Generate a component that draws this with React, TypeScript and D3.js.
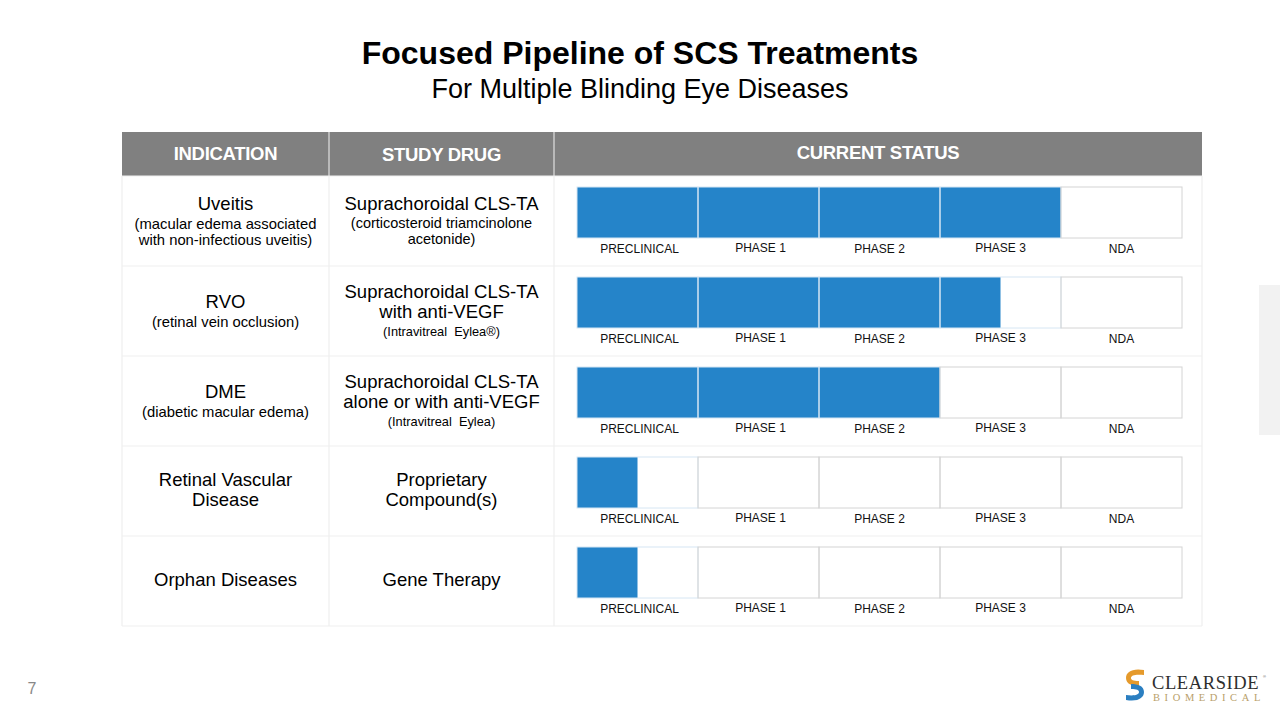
import React from "react";
import * as d3 from "d3";

const stages = ["PRECLINICAL", "PHASE 1", "PHASE 2", "PHASE 3", "NDA"];
const headers = ["INDICATION", "STUDY DRUG", "CURRENT STATUS"];
const indications = ["Uveitis", "RVO", "DME", "Retinal Vascular\nDisease", "Orphan Diseases"];
const indicationNotes = [
  "(macular edema associated\nwith non-infectious uveitis)",
  "(retinal vein occlusion)",
  "(diabetic macular edema)",
  "",
  "",
];
const drugs = [
  "Suprachoroidal CLS-TA",
  "Suprachoroidal CLS-TA\nwith anti-VEGF",
  "Suprachoroidal CLS-TA\nalone or with anti-VEGF",
  "Proprietary\nCompound(s)",
  "Gene Therapy",
];
const drugNotes = [
  "(corticosteroid triamcinolone\nacetonide)",
  "(Intravitreal  Eylea®)",
  "(Intravitreal  Eylea)",
  "",
  "",
];
// progress measured in number of completed stages
const progress = [4, 3.5, 3, 0.5, 0.5];

const W = 1280;
const H = 720;
const FONT = "'Liberation Sans', Arial, Helvetica, sans-serif";
const SERIF = "'Liberation Serif', 'DejaVu Serif', serif";

const tableLeft = 122;
const tableRight = 1202;
const colX = [122, 329, 554, 1202];
const headerTop = 132;
const headerBottom = 176;
const rowH = 90;

const x = d3.scaleLinear().domain([0, stages.length]).range([577, 1182]);
const rowY = d3
  .scaleLinear()
  .domain([0, indications.length])
  .range([headerBottom, headerBottom + rowH * indications.length]);

const BLUE = "#2584c9";

function Lines({ lines, cx, y0, dy, size, fill = "#000" }: any) {
  return (
    <>
      {lines.map((l: string, i: number) => (
        <text
          key={i}
          x={cx}
          y={y0 + i * dy}
          textAnchor="middle"
          fontSize={size}
          fill={fill}
          fontFamily={FONT}
          style={{ whiteSpace: "pre" }}
        >
          {l}
        </text>
      ))}
    </>
  );
}

export default function App() {
  const c1 = (colX[0] + colX[1]) / 2;
  const c2 = (colX[1] + colX[2]) / 2;
  const segW = x(1) - x(0);
  return (
    <svg
      width={W}
      height={H}
      style={{ position: "absolute", left: 0, top: 0, background: "#fff" }}
    >
      <rect width={W} height={H} fill="#fff" />
      {/* title */}
      <text x={640} y={64} textAnchor="middle" fontFamily={FONT} fontWeight="bold" fontSize={32} fill="#000">
        Focused Pipeline of SCS Treatments
      </text>
      <text x={640} y={98} textAnchor="middle" fontFamily={FONT} fontSize={27} fill="#000">
        For Multiple Blinding Eye Diseases
      </text>

      {/* header */}
      <rect x={tableLeft} y={headerTop} width={tableRight - tableLeft} height={headerBottom - headerTop} fill="#808080" />
      {[colX[1], colX[2]].map((cx) => (
        <line key={cx} x1={cx} x2={cx} y1={headerTop} y2={headerBottom} stroke="#f2f2f2" strokeWidth={1} />
      ))}
      <text x={c1} y={160} textAnchor="middle" fontFamily={FONT} fontWeight="bold" fontSize={18.5} letterSpacing={-0.3} fill="#fff">{headers[0]}</text>
      <text x={c2} y={161} textAnchor="middle" fontFamily={FONT} fontWeight="bold" fontSize={18.5} letterSpacing={-0.3} fill="#fff">{headers[1]}</text>
      <text x={878} y={159} textAnchor="middle" fontFamily={FONT} fontWeight="bold" fontSize={18.5} letterSpacing={-0.3} fill="#fff">{headers[2]}</text>

      {/* grid lines */}
      {d3.range(indications.length + 1).map((i) => (
        <line key={"h" + i} x1={tableLeft} x2={tableRight} y1={rowY(i)} y2={rowY(i)} stroke="#efefef" strokeWidth={1.2} />
      ))}
      {colX.map((cx) => (
        <line key={"v" + cx} x1={cx} x2={cx} y1={headerBottom} y2={rowY(indications.length)} stroke="#efefef" strokeWidth={1.2} />
      ))}

      {indications.map((ind, r) => {
        const top = rowY(r);
        const indLines = ind.split("\n");
        const noteLines = indicationNotes[r] ? indicationNotes[r].split("\n") : [];
        const drugLines = drugs[r].split("\n");
        const dNoteLines = drugNotes[r] ? drugNotes[r].split("\n") : [];
        const blockH1 = indLines.length * 20 + noteLines.length * 16;
        const y1 = top + (rowH - blockH1) / 2 + 14.5;
        const blockH2 = drugLines.length * 20 + dNoteLines.length * 16;
        const y2 = top + (rowH - blockH2) / 2 + 14.5;
        const barTop = top + 11;
        const barH = 51;
        return (
          <g key={r}>
            <Lines lines={indLines} cx={c1} y0={y1} dy={20} size={18.5} />
            <Lines lines={noteLines} cx={c1} y0={y1 + indLines.length * 20 - 1} dy={16} size={14.8} />
            <Lines lines={drugLines} cx={c2} y0={y2} dy={20} size={18.5} />
            <Lines
              lines={dNoteLines}
              cx={c2}
              y0={y2 + drugLines.length * 20 - 1.5}
              dy={16}
              size={r === 0 ? 14.5 : 12.8}
            />
            {stages.map((s, i) => {
              const frac = Math.max(0, Math.min(1, progress[r] - i));
              return (
                <g key={s}>
                  <rect x={x(i)} y={barTop} width={segW} height={barH} fill="#fff" />
                  {frac > 0 && <rect x={x(i)} y={barTop} width={segW * frac} height={barH} fill={BLUE} />}
                </g>
              );
            })}
            {stages.map((s, i) => (
              <rect
                key={"o" + s}
                x={x(i)}
                y={barTop}
                width={segW}
                height={barH}
                fill="none"
                stroke={i < progress[r] ? "#d6e6f3" : "#d4d4d4"}
                strokeWidth={1}
              />
            ))}
            {stages.map((s, i) => (
              <text
                key={"l" + s}
                x={x(i + 0.5) + (i < 2 ? 2 : 0)}
                y={barTop + barH + (i % 2 === 1 ? 14 : 15)}
                textAnchor="middle"
                fontFamily={FONT}
                fontSize={12}
                fill="#111"
              >
                {s}
              </text>
            ))}
          </g>
        );
      })}

      {/* side tab */}
      <rect x={1259} y={285} width={21} height={150} fill="#f2f2f2" />

      {/* page number */}
      <text x={32} y={694} textAnchor="middle" fontFamily={FONT} fontSize={16} fill="#888">7</text>

      {/* logo */}
      <g>
        <path d="M1144,670 C1132,668 1126,672 1126,678 C1126,684 1132,686 1139,686 L1139,681 C1133,681 1131,680 1131,678 C1131,675 1136,674 1144,675 Z" fill="#e59a2c" />
        <path d="M1126,700 C1138,702 1144,698 1144,692 C1144,686 1138,684 1131,684 L1131,689 C1137,689 1139,690 1139,692 C1139,695 1134,696 1126,695 Z" fill="#2b7fc1" />
        <text x={1152} y={689} fontFamily={SERIF} fontSize={18.5} letterSpacing={0.6} fill="#2e2e2e">
          CLEARSIDE
        </text>
        <text x={1263} y={678} fontFamily={FONT} fontSize={4} fill="#555">®</text>
        <text x={1153} y={701} fontFamily={SERIF} fontSize={10.5} letterSpacing={4.6} fill="#b9a06a">
          BIOMEDICAL
        </text>
      </g>
    </svg>
  );
}
